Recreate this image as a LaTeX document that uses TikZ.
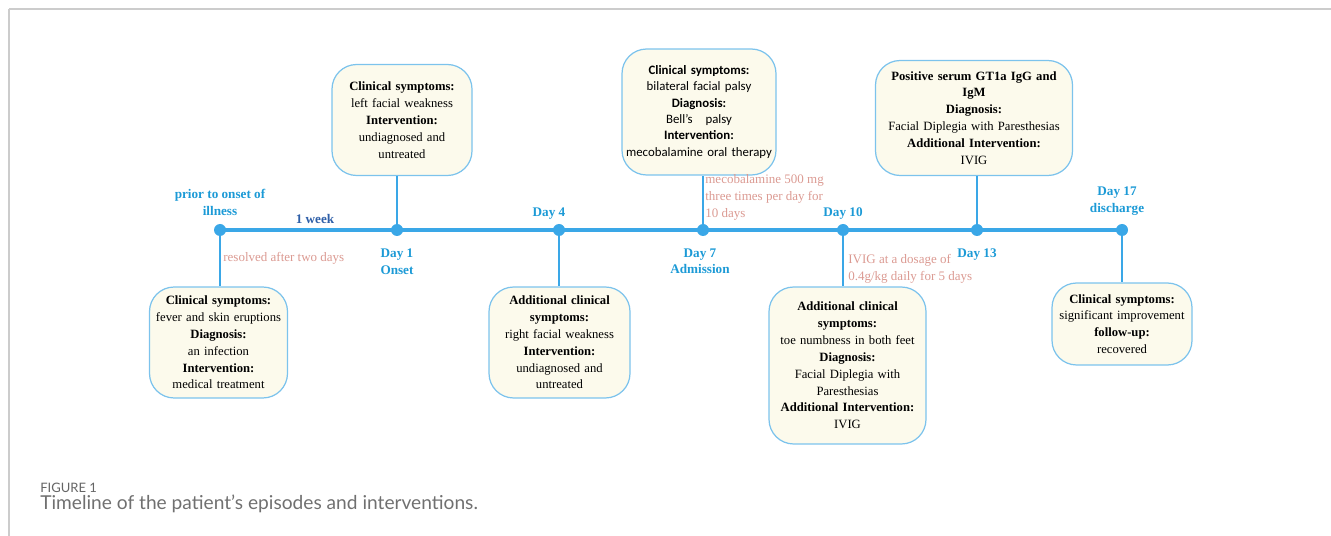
\documentclass[tikz,border=0pt]{standalone}
\usepackage{fontspec}
\setmainfont{Liberation Serif}
\newfontfamily\boxsans{Carlito}
\newfontfamily\capfont{Lato}
\usepackage{tikz}
\usetikzlibrary{positioning}
\definecolor{lineblue}{HTML}{3AA7E7}
\definecolor{dayblue}{HTML}{1C9AD6}
\definecolor{weekblue}{HTML}{2E5FA8}
\definecolor{boxedge}{HTML}{7CC3EC}
\definecolor{boxfill}{HTML}{FCFAEC}
\definecolor{notepink}{HTML}{DB9A92}
\definecolor{framegray}{HTML}{CCCCCC}
\definecolor{capgray}{HTML}{707070}
\tikzset{
  eventbox/.style={draw=boxedge,line width=.7pt,rounded corners=14pt,fill=boxfill,align=center,inner xsep=2pt,inner ysep=2pt,font=\fontsize{7.2}{9.6}\selectfont},
  dot/.style={circle,fill=lineblue,inner sep=0pt,minimum size=.24cm},
  axis/.style={draw=lineblue,line width=2.3pt},
  stem/.style={draw=lineblue,line width=1.6pt},
  daylabel/.style={text=dayblue,align=center,inner sep=1pt,font=\bfseries\fontsize{7.5}{9.6}\selectfont},
  note/.style={text=notepink,align=left,inner sep=0pt,font=\fontsize{7.4}{9.6}\selectfont},
  frameline/.style={draw=framegray,line width=.6pt},
}

\begin{document}
\begin{tikzpicture}[x=0.02cm,y=-0.02cm]
  \useasboundingbox (0,0) rectangle (1331,536);
  \draw[frameline] (9,9) -- (1331,9);
  \draw[frameline] (9,9) -- (9,536);
  % timeline points
  \node[dot] (d0) at (220,230) {};
  \node[dot] (d1) at (397,230) {};
  \node[dot] (d2) at (559,230) {};
  \node[dot] (d3) at (703,230) {};
  \node[dot] (d4) at (843,230) {};
  \node[dot] (d5) at (977,230) {};
  \node[dot] (d6) at (1122,230) {};
  \draw[axis] (d0.center) -- (d6.center);
  % event boxes
  \node[eventbox,text width=2.62cm,minimum height=2.22cm] (b0) at (218.5,342.5) {\textbf{Clinical symptoms:}\\fever and skin eruptions\\\textbf{Diagnosis:}\\an infection\\\textbf{Intervention:}\\medical treatment};
  \node[eventbox,text width=2.66cm,minimum height=2.22cm] (b1) at (402,120) {\textbf{Clinical symptoms:}\\left facial weakness\\\textbf{Intervention:}\\undiagnosed and\\untreated};
  \node[eventbox,text width=2.68cm,minimum height=2.22cm] (b2) at (559.5,342.5) {\textbf{Additional clinical}\\\textbf{symptoms:}\\right facial weakness\\\textbf{Intervention:}\\undiagnosed and\\untreated};
  \node[eventbox,text width=2.94cm,minimum height=2.52cm,font=\boxsans\fontsize{7.3}{9.3}\selectfont] (b3) at (699,112) {\textbf{Clinical symptoms:}\\bilateral facial palsy\\\textbf{Diagnosis:}\\Bell’s\quad palsy\\\textbf{Intervention:}\\mecobalamine oral therapy};
  \node[eventbox,text width=3.0cm,minimum height=3.14cm] (b4) at (847.5,365.5) {\textbf{Additional clinical}\\\textbf{symptoms:}\\toe numbness in both feet\\\textbf{Diagnosis:}\\Facial Diplegia with\\Paresthesias\\\textbf{Additional Intervention:}\\IVIG};
  \node[eventbox,text width=3.8cm,minimum height=2.3cm] (b5) at (974,118) {\textbf{Positive serum GT1a IgG and}\\\textbf{IgM}\\\textbf{Diagnosis:}\\Facial Diplegia with Paresthesias\\\textbf{Additional Intervention:}\\IVIG};
  \node[eventbox,text width=2.66cm,minimum height=1.64cm] (b6) at (1122,324) {\textbf{Clinical symptoms:}\\significant improvement\\\textbf{follow-up:}\\recovered};
  % stems
  \draw[stem] (d0) -- (d0 |- b0.north);
  \draw[stem] (d1) -- (d1 |- b1.south);
  \draw[stem] (d2) -- (d2 |- b2.north);
  \draw[stem] (d3) -- (d3 |- b3.south);
  \draw[stem] (d4) -- (d4 |- b4.north);
  \draw[stem] (d5) -- (d5 |- b5.south);
  \draw[stem] (d6) -- (d6 |- b6.north);
  % day labels
  \node[daylabel,above=.12cm of d0] (l0) {prior to onset of\\illness};
  \node[daylabel,text=weekblue] (l01) at (315,219) {1 week};
  \node[daylabel,below=.2cm of d1] (l1) {Day 1\\Onset};
  \node[daylabel,above=.05cm of d2,xshift=-.2cm] (l2) {Day 4};
  \node[daylabel,below=.2cm of d3,xshift=-.06cm] (l3) {Day 7\\Admission};
  \node[daylabel,above=.05cm of d4] (l4) {Day 10};
  \node[daylabel,below=.2cm of d5] (l5) {Day 13};
  \node[daylabel,above=.12cm of d6,xshift=-.1cm] (l6) {Day 17\\discharge};
  % notes
  \node[note,anchor=west] (n0) at (223,258) {resolved after two days};
  \node[note,anchor=north west] (n3) at (705,174) {mecobalamine 500 mg\\three times per day for\\10 days};
  \node[note,anchor=north west] (n4) at (848,254) {IVIG at a dosage of\\0.4g/kg daily for 5 days};
  % caption
  \node[anchor=west,inner sep=0pt,text=capgray!90!black,font=\capfont\fontsize{7.4}{9}\selectfont] (fig) at (40,488) {FIGURE 1};
  \node[anchor=west,inner sep=0pt,text=capgray,font=\capfont\fontsize{10.9}{13}\selectfont] (cap) at (40,504) {Timeline of the patient’s episodes and interventions.};
\end{tikzpicture}
\end{document}
